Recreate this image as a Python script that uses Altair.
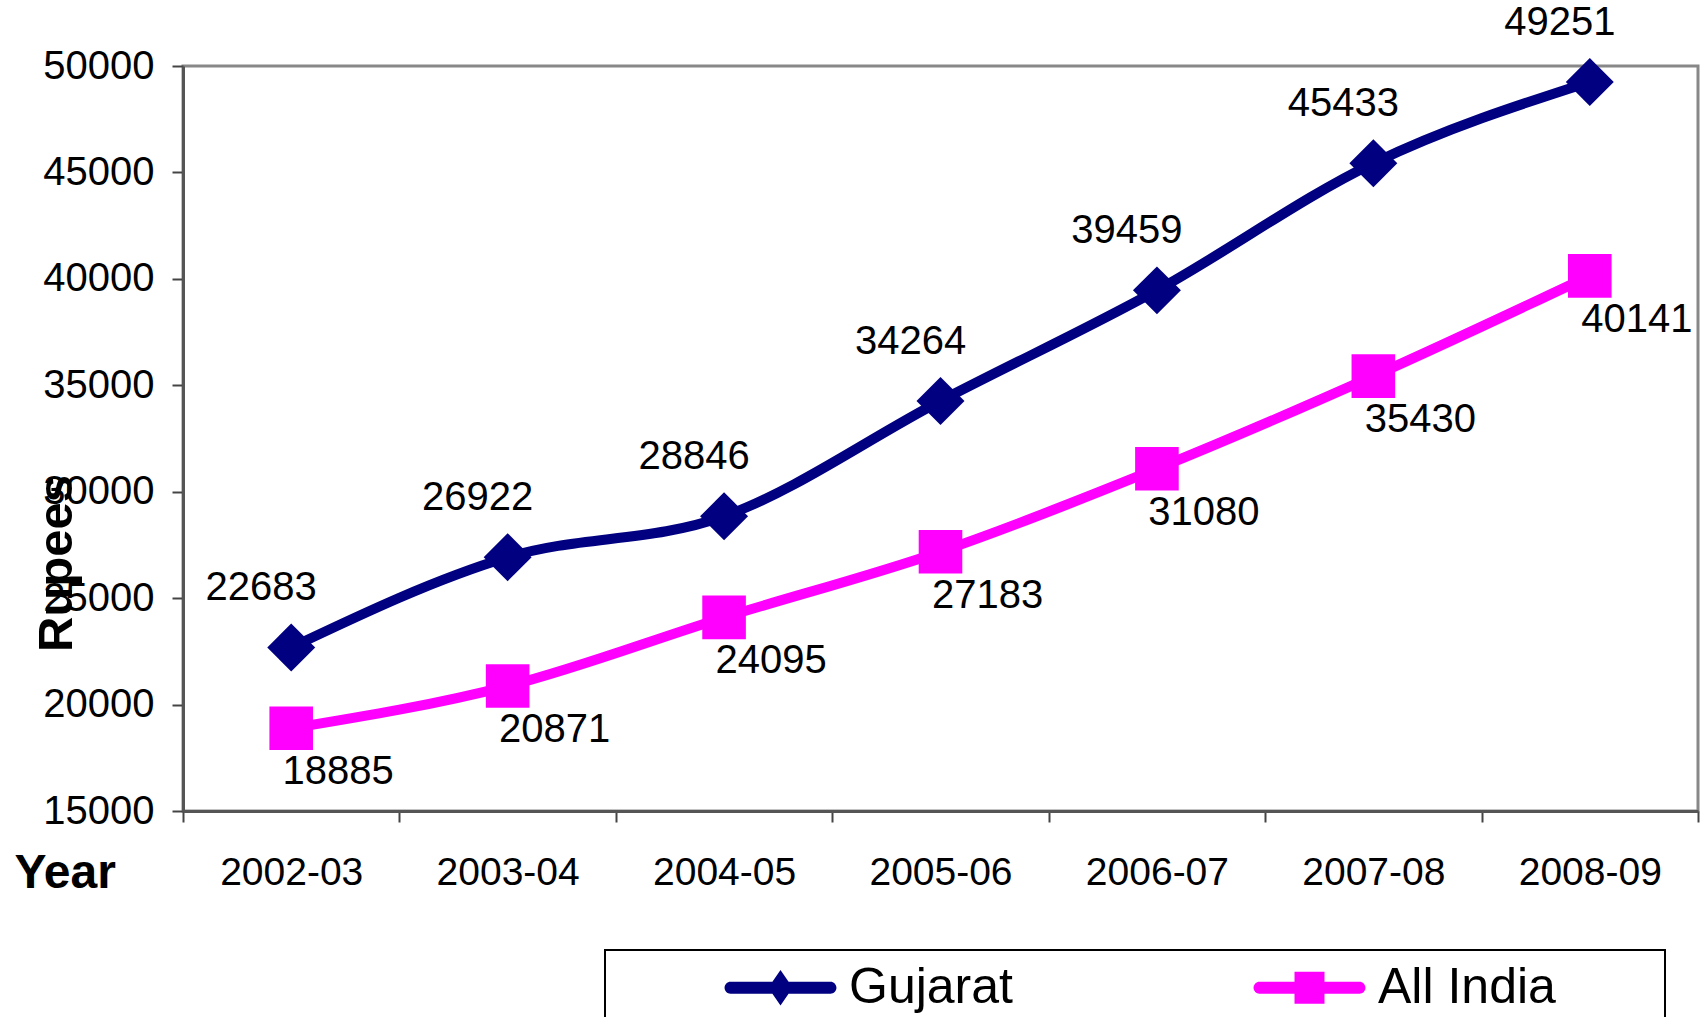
import altair as alt
import pandas as pd

years = ["2002-03", "2003-04", "2004-05", "2005-06", "2006-07", "2007-08", "2008-09"]
gujarat = [22683, 26922, 28846, 34264, 39459, 45433, 49251]
all_india = [18885, 20871, 24095, 27183, 31080, 35430, 40141]
series_names = ["Gujarat", "All India"]
series_colors = ["#000080", "#FF00FF"]
marker_shapes = ["diamond", "square"]
marker_sizes = [2300, 1900]

rows = []
for name, vals in zip(series_names, [gujarat, all_india]):
    for y, v in zip(years, vals):
        rows.append({"year": y, "value": v, "series": name})
df = pd.DataFrame(rows)

FONT = "Liberation Sans"

x_enc = alt.X("year:N", sort=years,
              scale=alt.Scale(type="band", paddingInner=0, paddingOuter=0),
              bandPosition=0.5,
              axis=alt.Axis(title="Year", tickBand="extent", labelAngle=0,
                            labelFontSize=39, labelFont=FONT, labelColor="black",
                            labelPadding=31, labelBaseline="top",
                            tickSize=11, tickColor="#444", tickWidth=2,
                            domainColor="#555", domainWidth=3,
                            titleFont=FONT, titleFontSize=48, titleFontWeight="bold",
                            titleColor="black", titleAlign="left", titleBaseline="alphabetic",
                            titleX=-169, titleY=76, titleAnchor="start"))
y_enc = alt.Y("value:Q",
              scale=alt.Scale(domain=[15000, 50000], nice=False, zero=False),
              axis=alt.Axis(title="Rupees", values=list(range(15000, 50001, 5000)),
                            format="d", grid=False,
                            labelFontSize=40, labelFont=FONT, labelColor="black",
                            labelPadding=18, labelFlush=False,
                            tickSize=11, tickColor="#444", tickWidth=2,
                            domainColor="#555", domainWidth=3,
                            titleFont=FONT, titleFontSize=49, titleFontWeight="bold",
                            titleColor="black", titleAngle=270, titleAlign="center",
                            titleBaseline="alphabetic", titleX=-112, titleY=497))

base = alt.Chart(df)

layers = []
# legend frame (decorative box, partly below the page edge)
frame = alt.Chart(alt.Data(values=[{"k": 1}])).mark_rect(
    fill="white", stroke="black", strokeWidth=2
).encode(x=alt.value(422), x2=alt.value(1482), y=alt.value(884), y2=alt.value(1100))
layers.append(frame)

for name, col in zip(series_names, series_colors):
    layers.append(
        base.transform_filter(alt.datum.series == name)
        .mark_line(color=col, strokeWidth=10, interpolate="monotone")
        .encode(x=x_enc, y=y_enc)
    )

for name, col, shp, sz in zip(series_names, series_colors, marker_shapes, marker_sizes):
    layers.append(
        base.transform_filter(alt.datum.series == name)
        .mark_point(filled=True, opacity=1, color=col, shape=shp, size=sz)
        .encode(x=x_enc, y=y_enc)
    )

line_part = "M-0.9,-0.108H0.9A0.108,0.108 0 0 1 0.9,0.108H-0.9A0.108,0.108 0 0 1 -0.9,-0.108Z"
diamond_leg = line_part + "M0,-0.32L0.22,0L0,0.32L-0.22,0Z"
square_leg = line_part + "M-0.27,-0.29H0.27V0.29H-0.27Z"

legend_def = alt.Legend(
    title=None, orient="none", legendX=542, legendY=866,
    direction="horizontal", columns=2, columnPadding=240,
    symbolSize=12321, labelOffset=13, symbolOpacity=1,
    symbolStrokeWidth=0, labelLimit=0,
    labelFont=FONT, labelFontSize=50, labelColor="black",
    padding=0)

# legend-only layer (invisible marks, legend drawn from its scales)
legend_layer = base.mark_point(filled=True, opacity=0).encode(
    x=x_enc, y=y_enc,
    color=alt.Color("series:N", scale=alt.Scale(domain=series_names, range=series_colors),
                    legend=legend_def),
    shape=alt.Shape("series:N", scale=alt.Scale(domain=series_names, range=[diamond_leg, square_leg]),
                    legend=legend_def),
)
layers.append(legend_layer)

label_g = base.transform_filter(alt.datum.series == "Gujarat").mark_text(
    font=FONT, fontSize=40, color="black", dx=-30, dy=-59, baseline="middle", align="center"
).encode(x=x_enc, y=y_enc, text="value:Q")
label_a = base.transform_filter(alt.datum.series == "All India").mark_text(
    font=FONT, fontSize=40, color="black", dx=47, dy=44, baseline="middle", align="center"
).encode(x=x_enc, y=y_enc, text="value:Q")
layers += [label_g, label_a]

chart = alt.layer(*layers).properties(
    width=1515, height=745,
    autosize=alt.AutoSizeParams(type="none"),
    padding={"left": 183, "top": 66, "right": 4, "bottom": 206},
    background="white",
).configure_view(stroke="#888", strokeWidth=3).configure_text(font=FONT)

chart.save("out.html", embed_options={"renderer": "svg", "actions": False})
